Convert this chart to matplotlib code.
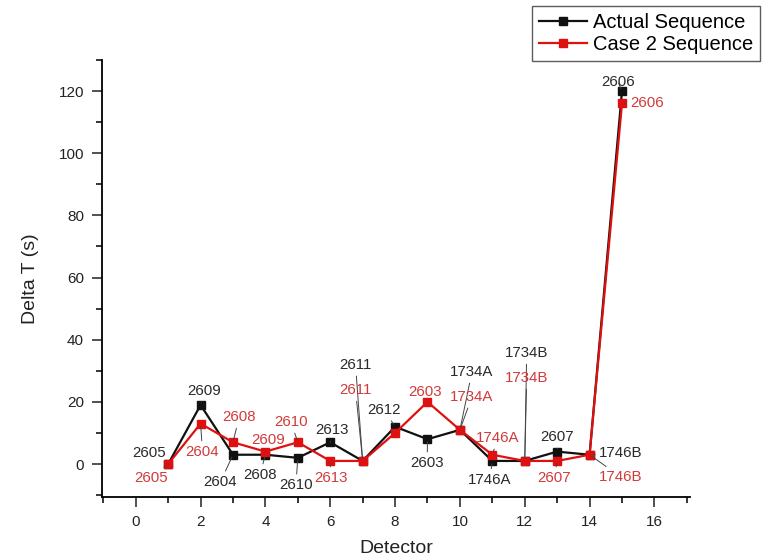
import matplotlib
matplotlib.use("Agg")
from matplotlib import pyplot as plt
from matplotlib.ticker import MultipleLocator

plt.rcParams['font.family'] = ['Liberation Sans', 'DejaVu Sans']

# data
detector = [1, 2, 3, 4, 5, 6, 7, 8, 9, 10, 11, 12, 13, 14, 15]
actual_dt = [0, 19, 3, 3, 2, 7, 1, 12, 8, 11, 1, 1, 4, 3, 120]
case2_dt = [0, 13, 7, 4, 7, 1, 1, 10, 20, 11, 3, 1, 1, 3, 116]
actual_ids = ["2605", "2609", "2604", "2608", "2610", "2613", "2611", "2612",
              "2603", "1734A", "1746A", "1734B", "2607", "1746B", "2606"]
case2_ids = ["2605", "2604", "2608", "2609", "2610", "2613", "2611", None,
             "2603", "1734A", "1746A", "1734B", "2607", "1746B", "2606"]

# where the labels sit (layout only)
actual_txt = [(0.40, 3.5), (2.12, 23.5), (2.61, -5.8), (3.83, -3.5), (4.94, -6.8),
              (6.04, 10.9), (6.78, 31.9), (7.67, 17.4), (8.99, 0.3), (10.37, 29.6),
              (10.92, -5.1), (12.06, 35.7), (13.01, 8.7), (14.97, 3.5), (14.88, 122.9)]
case2_txt = [(0.46, -4.5), (2.06, 3.9), (3.19, 15.1), (4.08, 7.7), (4.79, 13.5),
             (6.01, -4.5), (6.78, 23.8), None, (8.93, 23.2), (10.37, 21.6),
             (11.17, 8.4), (12.06, 27.7), (12.91, -4.5), (14.97, -4.2), (15.77, 116.2)]

black = "#111111"
red = "#e01010"
red_txt = "#d23a3a"
grey_txt = "#2a2a2a"

fig = plt.figure(figsize=(7.62, 5.60), dpi=100)
ax = fig.add_axes([0.1339, 0.1125, 0.7717, 0.7804])

ax.plot(detector, actual_dt, color=black, lw=1.6, marker="s", ms=5.5,
        label="Actual Sequence", zorder=3)
ax.plot(detector, case2_dt, color=red, lw=1.6, marker="s", ms=5.5,
        label="Case 2 Sequence", zorder=3)

lead = dict(arrowstyle="-", lw=0.7, color="#444444", shrinkA=1, shrinkB=2)
for x, y, s, pos in zip(detector, actual_dt, actual_ids, actual_txt):
    ax.annotate(s, xy=(x, y), xytext=pos, ha="center", va="center",
                fontsize=10.8, color=grey_txt, arrowprops=lead, zorder=4)
for x, y, s, pos in zip(detector, case2_dt, case2_ids, case2_txt):
    if s is None:
        continue
    ax.annotate(s, xy=(x, y), xytext=pos, ha="center", va="center",
                fontsize=10.8, color=red_txt, arrowprops=lead, zorder=4)

ax.set_xlim(-1.04, 17.1)
ax.set_ylim(-10.6, 130)
ax.xaxis.set_major_locator(MultipleLocator(2))
ax.xaxis.set_minor_locator(MultipleLocator(1))
ax.yaxis.set_major_locator(MultipleLocator(20))
ax.yaxis.set_minor_locator(MultipleLocator(10))
ax.tick_params(which="major", direction="out", length=7, width=1.1, labelsize=11,
               colors="#222222", pad=6)
ax.tick_params(which="minor", direction="out", length=4, width=1.1)
ax.spines["top"].set_visible(False)
ax.spines["right"].set_visible(False)
for sp in ("left", "bottom"):
    ax.spines[sp].set_linewidth(1.3)

ax.set_xlabel("Detector", fontsize=14, color="#222222", labelpad=8)
ax.set_ylabel("Delta T (s)", fontsize=14, color="#222222", labelpad=14)

leg = fig.legend(loc="upper right", bbox_to_anchor=(0.998, 0.99), fontsize=14.5,
                 numpoints=1, handlelength=2.4, fancybox=False, borderpad=0.35,
                 labelspacing=0.15, handletextpad=0.3, borderaxespad=0)
leg.get_frame().set_edgecolor("#333333")
leg.get_frame().set_linewidth(1.0)

plt.savefig("out.png", dpi=100)
